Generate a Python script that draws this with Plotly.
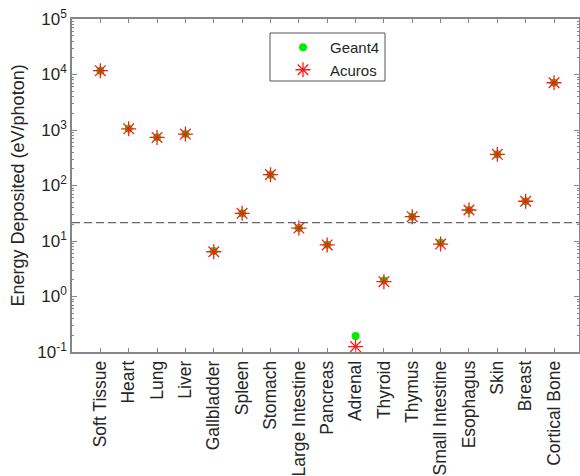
import plotly.graph_objects as go

organs = ["Soft Tissue", "Heart", "Lung", "Liver", "Gallbladder", "Spleen", "Stomach",
          "Large Intestine", "Pancreas", "Adrenal", "Thyroid", "Thymus", "Small Intestine",
          "Esophagus", "Skin", "Breast", "Cortical Bone"]
geant4 = [11700, 1050, 740, 850, 6.6, 31.5, 157, 17.1, 8.6, 0.195, 1.95, 27.4, 9.3, 36.2, 365, 52, 7100]
acuros = [11700, 1050, 735, 845, 6.4, 31.5, 157, 17.1, 8.5, 0.125, 1.85, 27.4, 8.8, 36.2, 365, 52, 7100]
threshold = 21.4
ytick_vals = [0.1, 1, 10, 100, 1000, 10000, 100000]
ytick_text = ["10<sup>-1</sup>", "10<sup>0</sup>", "10<sup>1</sup>", "10<sup>2</sup>",
              "10<sup>3</sup>", "10<sup>4</sup>", "10<sup>5</sup>"]

FONT = "Liberation Sans, Arial, sans-serif"
AX = "#868686"
W, H = 580, 476
ML, MR, MT, MB = 72, 1, 19, 124
PW, PH = W - ML - MR, H - MT - MB


def px_x(p):
    return (p - ML) / PW


def px_y(p):
    return (H - MB - p) / PH


fig = go.Figure()
fig.add_trace(go.Scatter(
    x=organs, y=geant4, mode="markers", name="Geant4",
    marker=dict(symbol="circle", size=8, color="#00ee00", line=dict(width=0)),
))
fig.add_trace(go.Scatter(
    x=organs, y=acuros, mode="markers", name="Acuros",
    marker=dict(symbol="asterisk-open", size=12.5, color="#ff1a1a",
                line=dict(width=1.3, color="#ff1a1a")),
))
fig.add_hline(y=threshold, line=dict(color="#666666", width=1.3, dash="8px,4px"))

# legend frame
fig.add_shape(type="rect", xref="paper", yref="paper",
              x0=px_x(270), x1=px_x(385), y0=px_y(81), y1=px_y(33),
              line=dict(color="#555555", width=1), fillcolor="white", layer="below")

fig.add_annotation(text="Energy Deposited (eV/photon)", xref="paper", yref="paper",
                   x=px_x(17), y=0.5, xanchor="center", yanchor="middle",
                   textangle=-90, showarrow=False,
                   font=dict(size=18, color="#262626", family=FONT))

fig.update_layout(
    width=W, height=H,
    margin=dict(l=ML, r=MR, t=MT, b=MB),
    paper_bgcolor="white", plot_bgcolor="white",
    font=dict(family=FONT, size=17.5, color="#262626"),
    showlegend=True,
    legend=dict(
        x=px_x(276), y=px_y(31), xanchor="left", yanchor="top",
        bgcolor="rgba(0,0,0,0)", borderwidth=0,
        font=dict(size=15, color="#262626"),
        itemwidth=44, tracegroupgap=0,
    ),
    xaxis=dict(
        type="category", categoryorder="array", categoryarray=organs,
        range=[-1, 16.88], tickangle=-90, automargin=False,
        showline=True, linecolor=AX, linewidth=1.5, mirror="ticks",
        ticks="inside", ticklen=4, tickcolor=AX, tickwidth=1,
        showgrid=False, zeroline=False,
        tickfont=dict(size=17.5, color="#262626"),
    ),
    yaxis=dict(
        type="log", range=[-1, 5], automargin=False,
        tickvals=ytick_vals, ticktext=ytick_text,
        showline=True, linecolor=AX, linewidth=1.5, mirror="ticks",
        ticks="inside", ticklen=5, tickcolor=AX, tickwidth=1,
        minor=dict(ticks="inside", ticklen=2.5, tickcolor=AX, dtick="D1", showgrid=False),
        showgrid=False, zeroline=False,
        tickfont=dict(size=17, color="#262626"),
    ),
)

fig.write_html("out.html", config={"displayModeBar": False},
               post_script="document.body.style.margin='0';document.body.style.overflow='hidden';")
